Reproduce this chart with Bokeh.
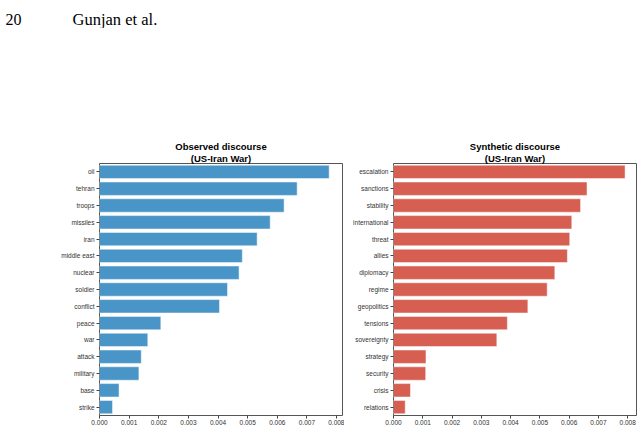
from bokeh.plotting import figure
from bokeh.models import Range1d, FactorRange, FixedTicker, PrintfTickFormatter, Title, Label, ColumnDataSource
from bokeh.layouts import column, row
from bokeh.embed import file_html
from bokeh.resources import INLINE

# ---------------- data ----------------
obs_words = ["oil", "tehran", "troops", "missiles", "iran", "middle east", "nuclear",
             "soldier", "conflict", "peace", "war", "attack", "military", "base", "strike"]
obs_values = [0.00775, 0.00667, 0.00623, 0.00576, 0.00532, 0.00482, 0.00471,
              0.00432, 0.00405, 0.00207, 0.00163, 0.00141, 0.00133, 0.00066, 0.00044]

syn_words = ["escalation", "sanctions", "stability", "international", "threat", "allies",
             "diplomacy", "regime", "geopolitics", "tensions", "sovereignty", "strategy",
             "security", "crisis", "relations"]
syn_values = [0.00791, 0.00661, 0.00639, 0.00609, 0.00602, 0.00594, 0.00551,
              0.00525, 0.00459, 0.00389, 0.00353, 0.00111, 0.00110, 0.00058, 0.00040]

x_ticks = [0.000, 0.001, 0.002, 0.003, 0.004, 0.005, 0.006, 0.007, 0.008]

FONT = "Liberation Sans"


def make_panel(words, values, color, title1, title2, width, bl, br, xmax):
    src = ColumnDataSource(dict(word=words, value=values))
    p = figure(width=width, height=400, output_backend="svg", toolbar_location=None,
               y_range=FactorRange(factors=list(reversed(words)), range_padding=0),
               x_range=Range1d(0, xmax),
               min_border_left=bl, min_border_right=br, min_border_top=135, min_border_bottom=13)
    p.hbar(y="word", right="value", left=0, height=0.8, source=src,
           fill_color=color, line_color="white", line_alpha=0.5, line_width=1)
    p.add_layout(Title(text=title2, align="center", text_font=FONT, text_font_size="9.5px",
                       text_font_style="bold", text_color="black", standoff=0, offset=3), "above")
    p.add_layout(Title(text=title1, align="center", text_font=FONT, text_font_size="9.5px",
                       text_font_style="bold", text_color="black", standoff=-3, offset=3), "above")
    p.xgrid.visible = False
    p.ygrid.visible = False
    p.outline_line_color = "#555555"
    p.outline_line_width = 1
    for ax in (p.xaxis[0], p.yaxis[0]):
        ax.axis_line_color = None
        ax.major_tick_out = 3
        ax.major_tick_in = 0
        ax.minor_tick_line_color = None
        ax.major_tick_line_color = "#444444"
        ax.major_label_text_font = FONT
        ax.major_label_text_font_size = "6.5px"
        ax.major_label_text_color = "#333333"
        ax.major_label_standoff = 2
    p.xaxis[0].ticker = FixedTicker(ticks=x_ticks)
    p.xaxis[0].formatter = PrintfTickFormatter(format="%.3f")
    p.xaxis[0].major_label_standoff = 1
    p.background_fill_color = "white"
    p.border_fill_color = "white"
    return p


left = make_panel(obs_words, obs_values, "#4a95c7", "Observed discourse", "(US-Iran War)",
                  344, 99, 2, 0.0082)
right = make_panel(syn_words, syn_values, "#d65f52", "Synthetic discourse", "(US-Iran War)",
                   299, 49, 7, 0.0083)

HH = 28
header = figure(width=643, height=HH, output_backend="svg", toolbar_location=None,
                x_range=Range1d(0, 643), y_range=Range1d(0, HH), min_border=0)
header.axis.visible = False
header.grid.visible = False
header.outline_line_color = None
header.add_layout(Label(x=5, y=HH - 18.5, x_units="screen", y_units="screen", text="20",
                        text_baseline="alphabetic",
                        text_font="Liberation Serif", text_font_size="16px", text_color="black"))
header.add_layout(Label(x=72, y=HH - 18.5, x_units="screen", y_units="screen", text="Gunjan et al.",
                        text_baseline="alphabetic",
                        text_font="Liberation Serif", text_font_size="16.5px", text_color="black"))

layout = column(header, row(left, right))
open("out.html", "w").write(file_html(layout, INLINE))
